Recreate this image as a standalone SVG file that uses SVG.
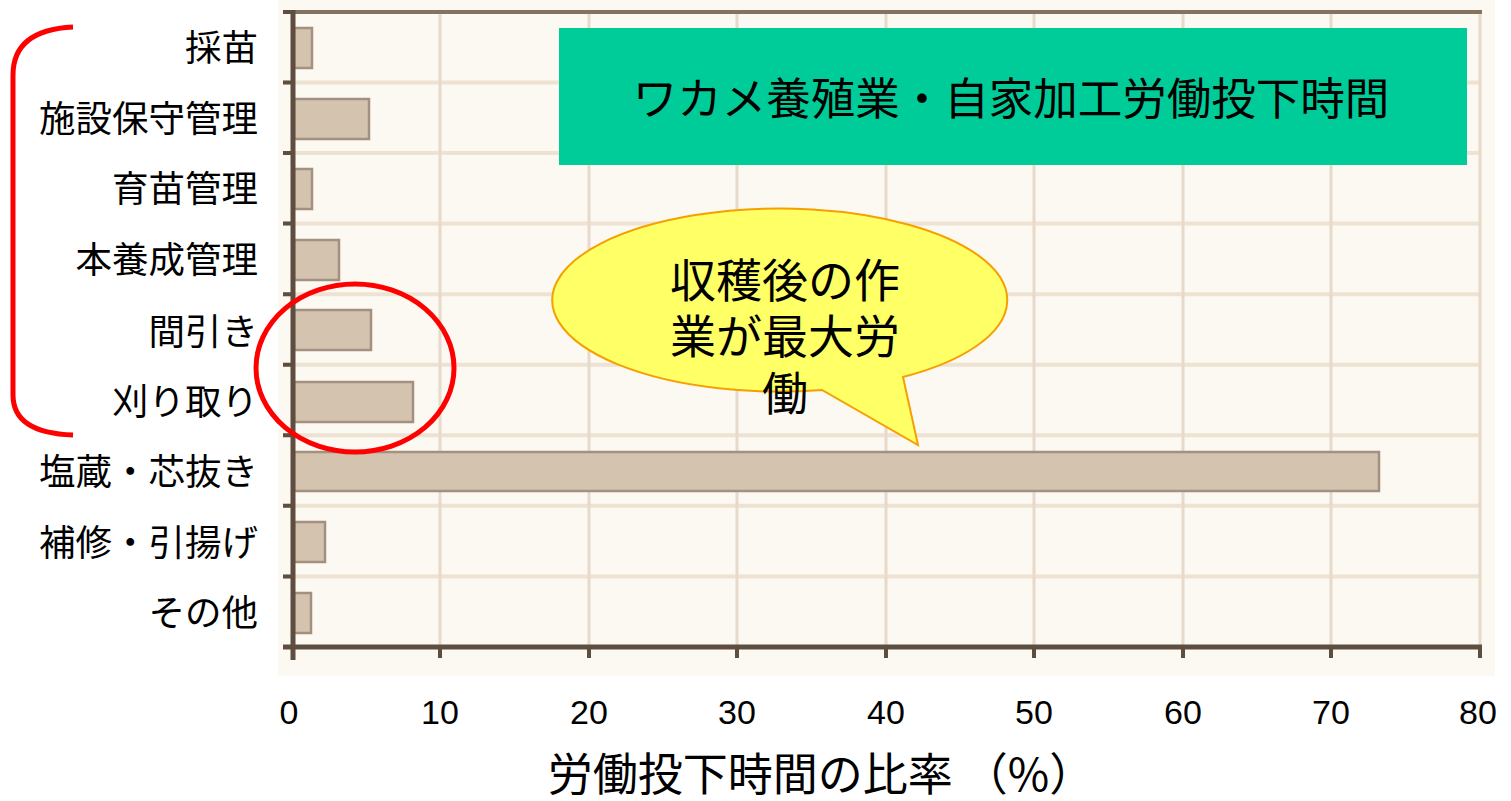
<svg xmlns="http://www.w3.org/2000/svg" width="1511" height="801" viewBox="0 0 1511 801">
<style>
.lbl{font-family:"Noto Sans CJK JP","Noto Sans CJK SC",sans-serif;font-size:36.5px;fill:#000;text-anchor:end}
.tick{font-family:"Liberation Sans",Arial,sans-serif;font-size:34px;fill:#000;text-anchor:middle}
.grid{stroke:#EEE2D2;stroke-width:4}
.vgrid{stroke:#E8DACA;stroke-width:3}
.axis{stroke:#5E4E40;stroke-width:5;fill:none}
.bar{fill:#D3C3AF;stroke:#A39180;stroke-width:2.5}
.jp{font-family:"Noto Sans CJK JP","Noto Sans CJK SC",sans-serif;fill:#000}
</style>
<rect x="0" y="0" width="1511" height="801" fill="#FFFFFF"/>
<g id="chart">
<rect x="278" y="0" width="1217" height="676" fill="#FCF9F2"/>
<g id="hgrid">
<line class="grid" x1="283" y1="82.5" x2="1480" y2="82.5"/>
<line class="grid" x1="283" y1="153" x2="1480" y2="153"/>
<line class="grid" x1="283" y1="223.6" x2="1480" y2="223.6"/>
<line class="grid" x1="283" y1="294.2" x2="1480" y2="294.2"/>
<line class="grid" x1="283" y1="364.8" x2="1480" y2="364.8"/>
<line class="grid" x1="283" y1="435.3" x2="1480" y2="435.3"/>
<line class="grid" x1="283" y1="505.8" x2="1480" y2="505.8"/>
<line class="grid" x1="283" y1="576.4" x2="1480" y2="576.4"/>
</g>
<g id="vgrid">
<line class="vgrid" x1="440" y1="12" x2="440" y2="657"/>
<line class="vgrid" x1="589" y1="12" x2="589" y2="657"/>
<line class="vgrid" x1="737" y1="12" x2="737" y2="657"/>
<line class="vgrid" x1="886" y1="12" x2="886" y2="657"/>
<line class="vgrid" x1="1034" y1="12" x2="1034" y2="657"/>
<line class="vgrid" x1="1183" y1="12" x2="1183" y2="657"/>
<line class="vgrid" x1="1331" y1="12" x2="1331" y2="657"/>
<line class="vgrid" x1="1480" y1="12" x2="1480" y2="657"/>
</g>
<g id="bars">
<rect class="bar" x="294" y="28" width="18" height="40"/>
<rect class="bar" x="294" y="99" width="75" height="40"/>
<rect class="bar" x="294" y="169" width="18" height="40"/>
<rect class="bar" x="294" y="240" width="45" height="40"/>
<rect class="bar" x="294" y="310" width="77" height="40"/>
<rect class="bar" x="294" y="382" width="119" height="40"/>
<rect class="bar" x="294" y="452" width="1085" height="39"/>
<rect class="bar" x="294" y="522" width="31" height="40"/>
<rect class="bar" x="294" y="593" width="17" height="40"/>
</g>
<g id="axes">
<line stroke="#857360" stroke-width="4" x1="283" y1="12" x2="1482" y2="12"/>
<line class="axis" x1="293" y1="10" x2="293" y2="660"/>
<line class="axis" x1="283" y1="647" x2="1482" y2="647"/>
<path stroke="#5E4E40" stroke-width="4" fill="none" d="M283 12H293M283 82.5H293M283 153H293M283 223.6H293M283 294.2H293M283 364.8H293M283 435.3H293M283 505.8H293M283 576.4H293M440 647V658M589 647V658M737 647V658M886 647V658M1034 647V658M1183 647V658M1331 647V658M1480 647V658"/>
</g>
<g id="ylabels">
<text class="lbl" x="258" y="61">採苗</text>
<text class="lbl" x="258" y="132">施設保守管理</text>
<text class="lbl" x="258" y="202">育苗管理</text>
<text class="lbl" x="258" y="273">本養成管理</text>
<text class="lbl" x="258" y="345">間引き</text>
<text class="lbl" x="258" y="415">刈り取り</text>
<text class="lbl" x="258" y="485">塩蔵・芯抜き</text>
<text class="lbl" x="258" y="556">補修・引揚げ</text>
<text class="lbl" x="258" y="626">その他</text>
</g>
<g id="xlabels">
<text class="tick" x="289" y="724">0</text>
<text class="tick" x="440" y="724">10</text>
<text class="tick" x="589" y="724">20</text>
<text class="tick" x="737" y="724">30</text>
<text class="tick" x="886" y="724">40</text>
<text class="tick" x="1034" y="724">50</text>
<text class="tick" x="1183" y="724">60</text>
<text class="tick" x="1331" y="724">70</text>
<text class="tick" x="1478" y="724">80</text>
</g>
<text id="xtitle" class="jp" x="821" y="791" font-size="45" text-anchor="middle">労働投下時間の比率 （%）</text>
</g>
<g id="title">
<rect x="559" y="28" width="908" height="137" fill="#00CC99"/>
<text class="jp" x="1011" y="115" font-size="44.5" text-anchor="middle">ワカメ養殖業・自家加工労働投下時間</text>
</g>
<g id="connectors">
<path d="M73 27 Q13 30 13 75 V395 Q13 433 73 435" fill="none" stroke="#FF0000" stroke-width="5"/>
<ellipse cx="355" cy="368" rx="99" ry="84" fill="none" stroke="#FF0000" stroke-width="5"/>
</g>
<g id="callout">
<path d="M903 377 L918 445 L822 390 A227.5 91.5 0 1 1 903 377 Z" fill="#FFFF66" stroke="#F5A000" stroke-width="2"/>
<text class="jp" font-size="46" text-anchor="middle"><tspan x="785" y="297">収穫後の作</tspan><tspan x="785" y="353">業が最大労</tspan><tspan x="785" y="410">働</tspan></text>
</g>
</svg>
